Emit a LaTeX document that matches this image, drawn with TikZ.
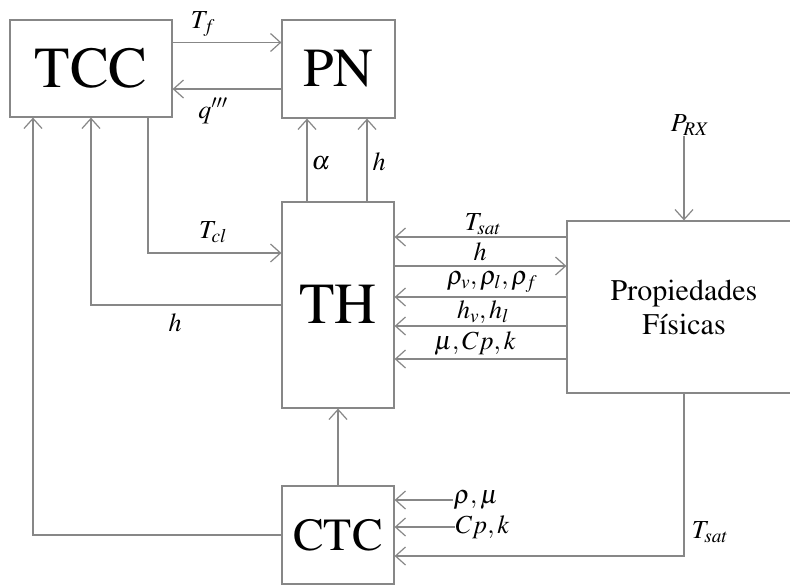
\documentclass[tikz,border=0pt]{standalone}
\usepackage[T1]{fontenc}
\usepackage{mathptmx}
\definecolor{lineagris}{RGB}{135,135,135}
\usetikzlibrary{
    arrows.meta,
    positioning,
    calc
}

\begin{document}
\begin{tikzpicture}[x=1pt, y=-1pt,
    bloque/.style={draw=lineagris, line width=1.2pt, inner sep=0pt},
    flecha/.style={draw=lineagris, line width=1.2pt, -{Straight Barb[length=10pt,width=18pt]}},
    etiqueta/.style={font=\fontsize{26}{28}\selectfont, inner sep=0.5pt}]
    \useasboundingbox[fill=white] (0,0) rectangle (790,587);
    \clip (0,0) rectangle (790,587);

    % Bloques
    \node[bloque, minimum width=162pt, minimum height=97pt, font=\fontsize{58}{60}\selectfont] (tcc) at (91,68.5) {TCC};
    \node[bloque, minimum width=113pt, minimum height=98pt, font=\fontsize{55}{58}\selectfont] (pn) at (338.5,69) {PN};
    \node[bloque, minimum width=112pt, minimum height=206pt, font=\fontsize{58}{60}\selectfont] (th) at (338,305) {TH};
    \node[bloque, minimum width=234pt, minimum height=172pt, align=center, font=\fontsize{30}{34}\selectfont] (prop) at (684,307) {Propiedades\\F\'{\i}sicas};
    \node[bloque, minimum width=112pt, minimum height=98pt, font=\fontsize{46}{48}\selectfont] (ctc) at (338,535) {CTC};

    % TCC <-> PN
    \draw[flecha] ([yshift=26pt]tcc.east) -- ([yshift=26pt]tcc.east -| pn.west);
    \node[etiqueta] (tf) at (203,24) {$T_f$};
    \draw[flecha] ([yshift=-20pt]pn.west) -- ([yshift=-20pt]pn.west -| tcc.east);
    \node[etiqueta] (qppp) at (213,111) {$q'''$};

    % TH -> PN
    \draw[flecha] ([xshift=-31pt]th.north) -- ([xshift=-31pt]th.north |- pn.south);
    \node[etiqueta] (alfa) at (321,163) {$\alpha$};
    \draw[flecha] ([xshift=29pt]th.north) -- ([xshift=29pt]th.north |- pn.south);
    \node[etiqueta] (hpn) at (379,162) {$h$};

    % TCC <-> TH
    \draw[flecha] ([xshift=57pt]tcc.south) |- ([yshift=52pt]th.west);
    \node[etiqueta] (tcl) at (213,232) {$T_{cl}$};
    \draw[flecha] (th.west) -| (tcc.south);
    \node[etiqueta] (htcc) at (175,323) {$h$};

    % Propiedades <-> TH
    \draw[flecha] ([yshift=70pt]prop.west) -- ([yshift=70pt]prop.west -| th.east);
    \node[etiqueta] (tsat) at (483,224) {$T_{sat}$};
    \draw[flecha] ([yshift=41pt]prop.west -| th.east) -- ([yshift=41pt]prop.west);
    \node[etiqueta] (hprop) at (480,252) {$h$};
    \draw[flecha] ([yshift=10pt]prop.west) -- ([yshift=10pt]prop.west -| th.east);
    \node[etiqueta] (rho) at (492,282) {$\rho_v,\rho_l,\rho_f$};
    \draw[flecha] ([yshift=-19pt]prop.west) -- ([yshift=-19pt]prop.west -| th.east);
    \node[etiqueta] (hvl) at (483,312) {$h_v,h_l$};
    \draw[flecha] ([yshift=-52pt]prop.west) -- ([yshift=-52pt]prop.west -| th.east);
    \node[etiqueta] (mu) at (475,343) {$\mu,Cp,k$};

    % Presion
    \node[etiqueta] (prx) at (690,125) {$P_{RX}$};
    \draw[flecha] (prx.south -| prop.north) -- (prop.north);

    % CTC
    \draw[flecha] (ctc.north) -- (th.south);
    \draw[flecha] (ctc.west) -| ([xshift=-58pt]tcc.south);
    \node[etiqueta, anchor=west] (rhomu) at (453,500) {$\rho,\mu$};
    \draw[flecha] (rhomu.west) -- (rhomu.west -| ctc.east);
    \node[etiqueta, anchor=west] (cpk) at (455,527) {$Cp,k$};
    \draw[flecha] (cpk.west) -- (cpk.west -| ctc.east);
    \draw[flecha] (prop.south) |- ([yshift=-21pt]ctc.east);
    \node[etiqueta] (tsatb) at (710,532) {$T_{sat}$};
\end{tikzpicture}
\end{document}
